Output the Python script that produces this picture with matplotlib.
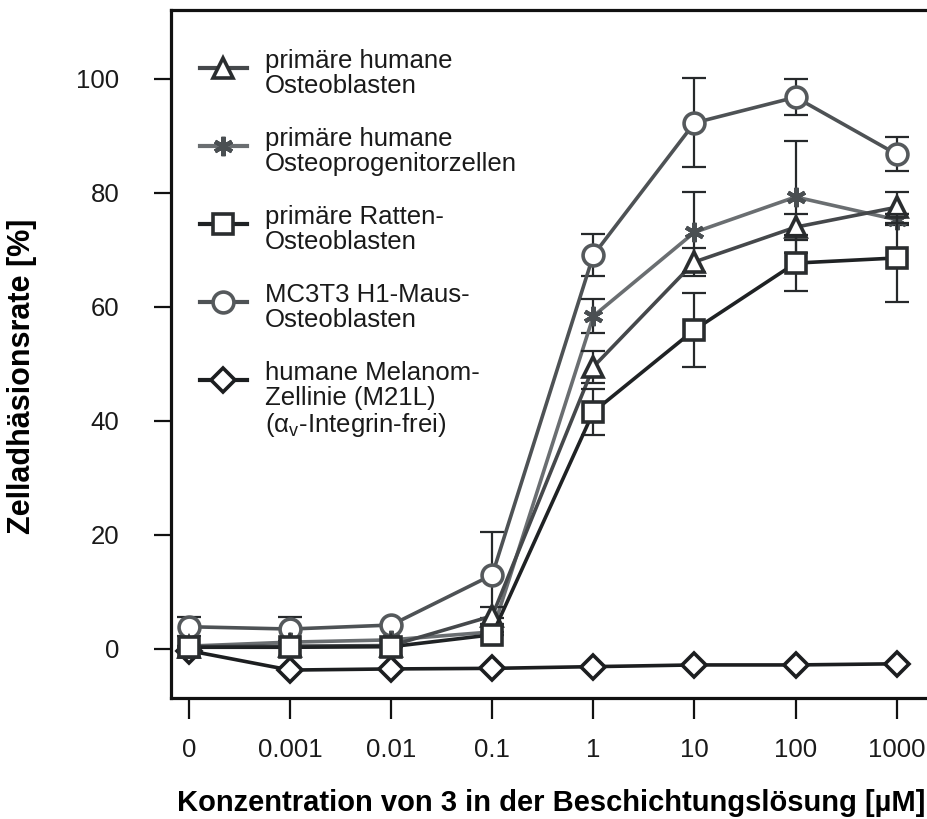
import numpy as np
import matplotlib.pyplot as plt

plt.rcParams['font.family'] = ['Liberation Sans', 'DejaVu Sans']
plt.rcParams['mathtext.fontset'] = 'custom'
plt.rcParams['mathtext.rm'] = 'Liberation Sans'

# ------------------------------------------------------------
# Daten
# ------------------------------------------------------------
conc_labels = ["0", "0.001", "0.01", "0.1", "1", "10", "100", "1000"]

hob = [0.4, 0.5, 0.6, 5.8, 49.5, 67.9, 74.0, 77.5]        # primäre humane Osteoblasten
hob_err = [0, 0, 0, 1.5, 2.8, 2.4, 2.3, 2.7]

hop = [0.5, 1.2, 1.6, 3.0, 58.4, 73.1, 79.3, 75.3]        # Osteoprogenitorzellen
hop_err = [0, 0, 0, 0, 3.0, 7.0, 9.8, 1.0]

rob = [0.3, 0.3, 0.4, 2.5, 41.6, 56.0, 67.7, 68.6]        # Ratten-Osteoblasten
rob_err = [0, 0, 0, 0, 4.0, 6.5, 4.9, 7.7]

mc3t3 = [3.9, 3.5, 4.2, 13.0, 69.1, 92.3, 96.8, 86.8]     # MC3T3 H1
mc3t3_err = [1.7, 2.1, 0, 7.5, 3.7, 7.8, 3.2, 3.0]

m21l = [-0.3, -3.7, -3.5, -3.4, -3.1, -2.8, -2.8, -2.6]  # Melanom M21L

labels = [
    "primäre humane\nOsteoblasten",
    "primäre humane\nOsteoprogenitorzellen",
    "primäre Ratten-\nOsteoblasten",
    "MC3T3 H1-Maus-\nOsteoblasten",
    "humane Melanom-\nZellinie (M21L)\n(α$_\\mathregular{v}$-Integrin-frei)",
]

x = np.arange(len(conc_labels))

ASTERISK = (6, 2, 0)

# Stil je Serie: (werte, fehler, marker, linienfarbe, randfarbe, groesse, zorder)
series = [
    (m21l, None, "D", "#1c1e20", "#1c1e20", 12, 2),
    (mc3t3, mc3t3_err, "o", "#4e5255", "#55595c", 15, 3),
    (hop, hop_err, ASTERISK, "#6a6e71", "#4a4f52", 14, 4),
    (hob, hob_err, "^", "#45484b", "#2a2d2f", 15, 5),
    (rob, rob_err, "s", "#1f2224", "#2a2d2f", 15, 6),
]
legend_order = [3, 2, 4, 1, 0]


def marker_style(mk, ec):
    if mk == ASTERISK:
        return dict(mfc=ec, mec=ec, mew=3.0)
    return dict(mfc="white", mec=ec, mew=2.6)


fig = plt.figure(figsize=(9.28, 8.19), dpi=100)
ax = fig.add_axes([171 / 928, 1 - 698 / 819, 760 / 928, 688 / 819])

for vals, err, mk, lc, ec, ms, z in series:
    if err is not None:
        ax.errorbar(x, vals, yerr=err, fmt="none", ecolor="#26292b",
                    elinewidth=1.6, capsize=8.5, capthick=1.6, zorder=z - 0.5)
    ax.plot(x, vals, color=lc, lw=2.6, marker=mk, ms=ms, zorder=z,
            **marker_style(mk, ec))

# Legende (Symbol auf Hoehe der ersten Textzeile)
step = 78 / 688
for i, idx in enumerate(legend_order):
    vals, err, mk, lc, ec, ms, z = series[idx]
    yy = (698 - 68) / 688 - i * step
    ax.plot([0.038, 0.100], [yy, yy], transform=ax.transAxes, color=lc,
            lw=3, zorder=7)
    ax.plot([0.069], [yy], transform=ax.transAxes, marker=mk, ms=ms,
            zorder=8, **marker_style(mk, ec))
    ax.text(0.124, yy + 19 / 688, labels[i], transform=ax.transAxes,
            fontsize=18.5, va="top", ha="left", linespacing=1.05,
            color="#1a1a1a")

ax.set_xlim(-0.178, 7.34)
ax.set_ylim(-8.6, 112.1)
ax.set_xticks(x)
ax.set_xticklabels(conc_labels)
ax.set_yticks([0, 20, 40, 60, 80, 100])

for s in ["left", "top", "bottom"]:
    ax.spines[s].set_linewidth(2.3)
    ax.spines[s].set_color("#111111")
ax.spines["right"].set_visible(False)

ax.tick_params(axis="both", direction="out", labelsize=18.5, width=1.6,
               color="#111111", labelcolor="#1a1a1a")
ax.tick_params(axis="x", length=15, pad=14)
ax.tick_params(axis="y", length=12, pad=25)

ax.set_xlabel("Konzentration von 3 in der Beschichtungslösung [µM]",
              fontsize=21, fontweight="bold", va="top")
ax.xaxis.set_label_coords(0.5, -0.132)
ax.set_ylabel("Zelladhäsionsrate [%]", fontsize=22, fontweight="bold")
ax.yaxis.set_label_coords(-0.176, 0.468)

fig.savefig("out.png", dpi=100)
